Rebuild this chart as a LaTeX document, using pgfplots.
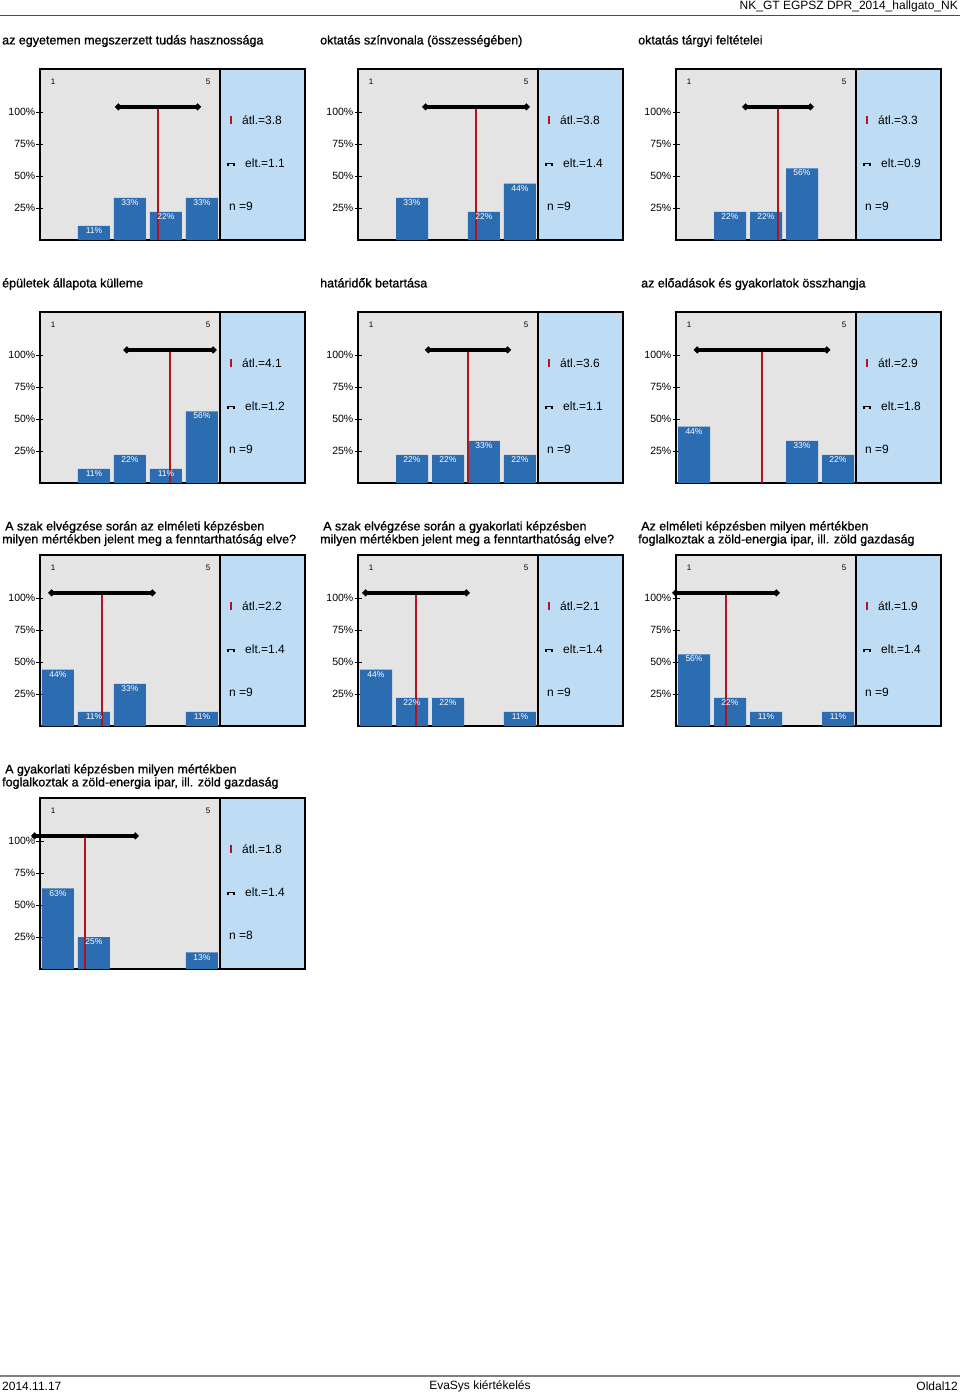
\documentclass[border=0pt]{standalone}
\usepackage{pgfplots}
\pgfplotsset{compat=1.18}
\usepackage{fontspec}
\setmainfont{Liberation Sans}
\newfontfamily\titlefont[FakeBold=1]{Liberation Sans}
\newcommand\fs[1]{\fontsize{#1}{#1}\selectfont}
\definecolor{gbg}{HTML}{E4E4E4}
\definecolor{boxblue}{HTML}{BEDDF5}
\definecolor{barblue}{HTML}{2C6CB0}
\definecolor{meanred}{HTML}{B0141E}

\pgfplotsset{panel/.style={
  scale only axis, width=180pt, height=171pt, anchor=north west,
  xmin=0.5, xmax=5.5, ymin=0, ymax=133.6,
  axis background/.style={fill=gbg},
  xtick=\empty, ytick={25,50,75,100},
  yticklabels={25\%,50\%,75\%,100\%},
  ytick pos=left, tick align=center, major tick length=7pt,
  tick style={black, line width=0.8pt},
  yticklabel style={font=\fs{10.5}, inner sep=1pt},
  axis line style={line width=1.2pt},
  /pgf/number format/assume math mode=true,
  clip=false}}

% #1 x offset, #2 frame top, #3 title, #4 bars, #5 mean, #6 sd, #7 mean text, #8 sd text, #9 n
\newcommand{\panel}[9]{%
  \node[anchor=north west, align=left, inner sep=0pt,
        font=\titlefont\fontsize{12.5}{13}\selectfont] at (#1pt+2pt,-#2pt+34pt) {#3};
  \fill[boxblue] (#1pt+220pt,-#2pt) rectangle (#1pt+305pt,-#2pt-171pt);
  \pgfmathsetmacro\lo{#5-#6}\pgfmathsetmacro\hi{#5+#6}
  \begin{axis}[panel, at={(#1pt+40pt,-#2pt)}]
    \addplot[ybar, bar width=32pt, fill=barblue, draw=none,
      nodes near coords={\pgfmathprintnumber{\pgfplotspointmeta}\%},
      nodes near coords align={below},
      every node near coord/.append style={text=white, font=\fs{8.5}, inner sep=1.5pt}]
      coordinates {#4};
    \addplot[meanred, line width=1.8pt] coordinates {(#5,0) (#5,104)};
    \addplot[black, line width=3.5pt, mark=*, mark size=1.2pt] coordinates {(\lo,104) (\hi,104)};
  \end{axis}
  \draw[line width=1.2pt] (#1pt+220pt,-#2pt) rectangle (#1pt+305pt,-#2pt-171pt);
  \node[font=\fs{8}, inner sep=0pt] at (#1pt+53pt,-#2pt-13pt) {1};
  \node[font=\fs{8}, inner sep=0pt] at (#1pt+208pt,-#2pt-13pt) {5};
  \draw[meanred, line width=1.5pt] (#1pt+231pt,-#2pt-47pt) -- ++(0,-8pt);
  \node[anchor=west, font=\fs{12}, inner sep=0pt] at (#1pt+242pt,-#2pt-51pt) {átl.=#7};
  \draw[line width=1.1pt] (#1pt+228pt,-#2pt-97pt) -- ++(0,2.5pt) -- ++(6pt,0) -- ++(0,-2.5pt);
  \node[anchor=west, font=\fs{12}, inner sep=0pt] at (#1pt+245pt,-#2pt-94pt) {elt.=#8};
  \node[anchor=west, font=\fs{12}, inner sep=0pt] at (#1pt+229pt,-#2pt-137pt) {n =#9};
}

\begin{document}
\begin{tikzpicture}
\fill[white] (0,0) rectangle (960pt,-1395pt);
\path[use as bounding box] (0,0) rectangle (960pt,-1395pt);

% header
\node[anchor=east, font=\fs{12}, inner sep=0pt] at (958pt,-6pt) {NK\_GT EGPSZ DPR\_2014\_hallgato\_NK};
\draw[black!70, line width=1pt] (0,-15pt) -- (960pt,-15pt);

\panel{0}{69}{az egyetemen megszerzett tudás hasznossága}{(2,11) (3,33) (4,22) (5,33)}{3.778}{1.1}{3.8}{1.1}{9}
\panel{318}{69}{oktatás színvonala (összességében)}{(2,33) (4,22) (5,44)}{3.778}{1.4}{3.8}{1.4}{9}
\panel{636}{69}{oktatás tárgyi feltételei}{(2,22) (3,22) (4,56)}{3.333}{0.9}{3.3}{0.9}{9}

\panel{0}{312}{épületek állapota külleme}{(2,11) (3,22) (4,11) (5,56)}{4.111}{1.2}{4.1}{1.2}{9}
\panel{318}{312}{határidők betartása}{(2,22) (3,22) (4,33) (5,22)}{3.556}{1.1}{3.6}{1.1}{9}
\panel{636}{312}{\hspace*{3pt}az előadások és gyakorlatok összhangja}{(1,44) (4,33) (5,22)}{2.889}{1.8}{2.9}{1.8}{9}

\panel{0}{555}{\hspace*{3pt}A szak elvégzése során az elméleti képzésben\\milyen mértékben jelent meg a fenntarthatóság elve?}{(1,44) (2,11) (3,33) (5,11)}{2.222}{1.4}{2.2}{1.4}{9}
\panel{318}{555}{\hspace*{3pt}A szak elvégzése során a gyakorlati képzésben\\milyen mértékben jelent meg a fenntarthatóság elve?}{(1,44) (2,22) (3,22) (5,11)}{2.111}{1.4}{2.1}{1.4}{9}
\panel{636}{555}{\hspace*{3pt}Az elméleti képzésben milyen mértékben\\foglalkoztak a zöld-energia ipar, ill. zöld gazdaság}{(1,56) (2,22) (3,11) (5,11)}{1.889}{1.4}{1.9}{1.4}{9}

\panel{0}{798}{\hspace*{3pt}A gyakorlati képzésben milyen mértékben\\foglalkoztak a zöld-energia ipar, ill. zöld gazdaság}{(1,63) (2,25) (5,13)}{1.75}{1.4}{1.8}{1.4}{8}

% footer
\draw[black!50, line width=2pt] (0,-1376pt) -- (960pt,-1376pt);
\node[anchor=west, font=\fs{12}, inner sep=0pt] at (2pt,-1386pt) {2014.11.17};
\node[font=\fs{12}, inner sep=0pt] at (480pt,-1386pt) {EvaSys kiértékelés};
\node[anchor=east, font=\fs{12}, inner sep=0pt] at (958pt,-1386pt) {Oldal12};
\end{tikzpicture}
\end{document}
